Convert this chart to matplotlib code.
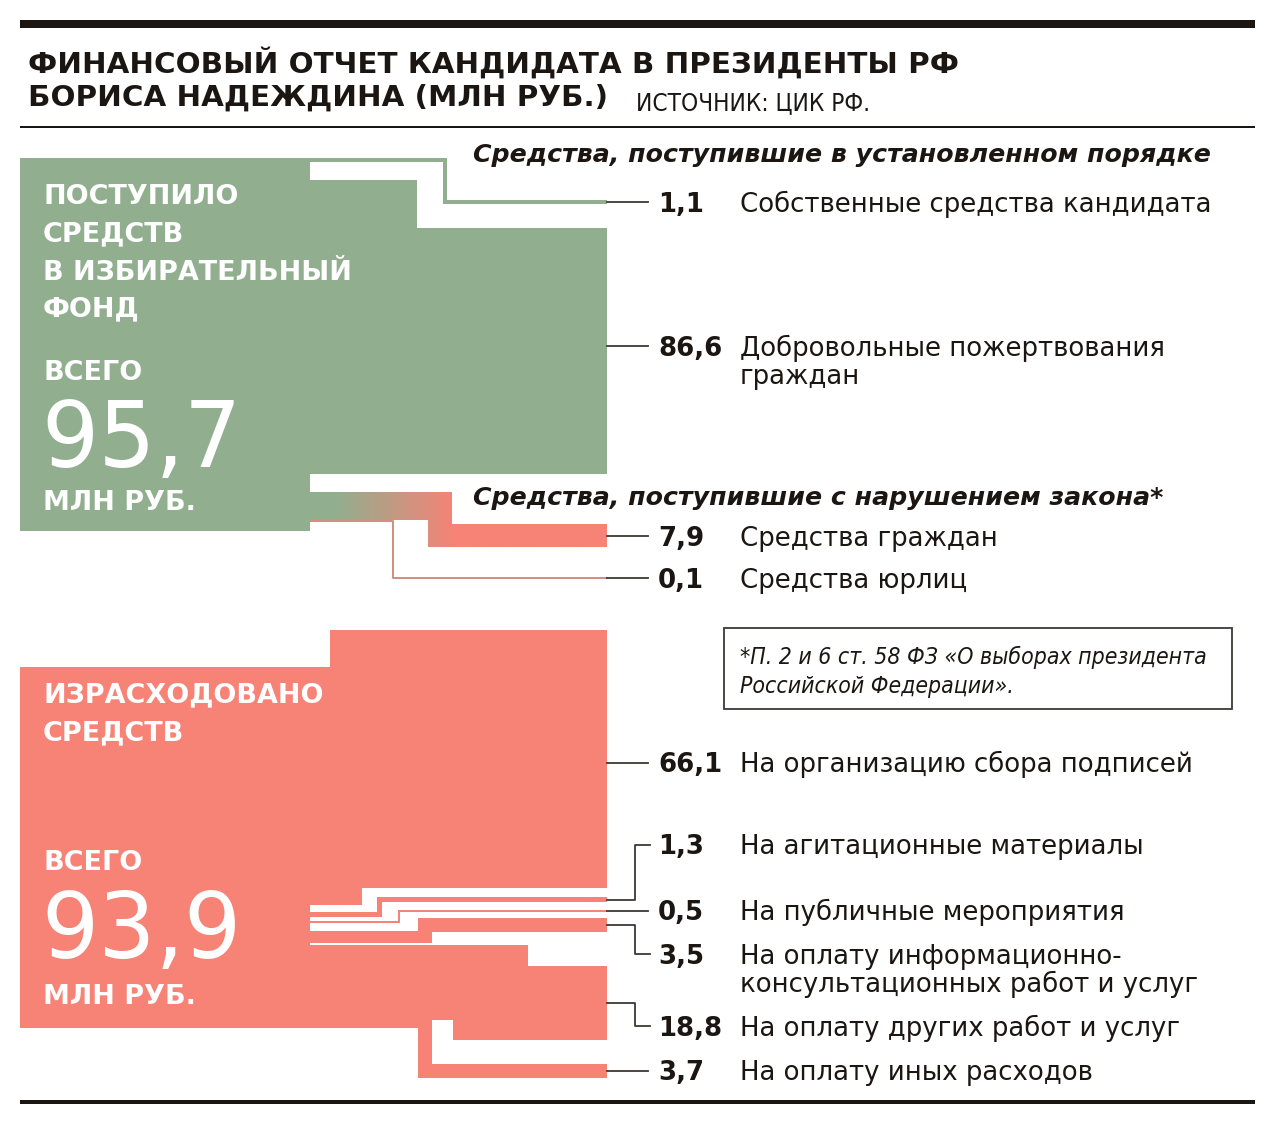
import numpy as np
import matplotlib
matplotlib.use('Agg')
from matplotlib import pyplot as plt, patches, colors, font_manager

# данные: финансовый отчет кандидата (млн руб.)
total_in = 95.7
total_out = 93.9
top_values = [1.1, 86.6, 7.9, 0.1]
top_labels = ['Собственные средства кандидата',
              'Добровольные пожертвования\nграждан',
              'Средства граждан',
              'Средства юрлиц']
bottom_values = [66.1, 1.3, 0.5, 3.5, 18.8, 3.7]
bottom_labels = ['На организацию сбора подписей',
                 'На агитационные материалы',
                 'На публичные мероприятия',
                 'На оплату информационно-\nконсультационных работ и услуг',
                 'На оплату других работ и услуг',
                 'На оплату иных расходов']

# раскладка (пиксели): центр правого конца потока, строка подписи,
# выход потока из блока слева, x ступеньки верхнего/нижнего края
top_band_y = [202, 351, 535.5, 578]
top_label_y = [202, 346, 536, 578]
top_left = [(158, 162), (180, 474), (492, 520), (521, 521)]
top_steps = [(447, 443), (417, 607), (452, 428), (393, 393)]
top_scale = 2.85

bottom_band_y = [759, 899.5, 911, 925, 1003, 1071]
bottom_label_y = [763, 845, 911, 954, 1026, 1071]
bottom_left = [(667, 905), (912, 916.5), (921, 923), (931, 943), (945, 1020), (1020, 1028)]
bottom_steps = [(330, 362), (377, 382), (398, 400), (418, 432), (528, 453), (432, 418)]
bottom_scale = 3.9

GREEN = '#91af8f'
RED = '#f68376'
INK = '#1c1613'
LINE = '#3d3833'
X0, X1, XEND = 310, 607, 648
SANS = 'DejaVu Sans'


def condensed_font(italic=False):
    # узкий рубленый шрифт, если он есть в системе
    for f in font_manager.fontManager.ttflist:
        narrow = 'Condensed' in f.name or 'Narrow' in f.name or f.stretch == 'condensed'
        sans = 'Sans' in f.name and 'Mono' not in f.name and 'Serif' not in f.name
        slanted = f.style in ('italic', 'oblique')
        if narrow and sans and f.weight in (400, 'normal', 'regular') and slanted == italic:
            return font_manager.FontProperties(fname=f.fname)
    return font_manager.FontProperties(family=SANS, style='italic' if italic else 'normal')


fig = plt.figure(figsize=(12.76, 11.25), dpi=100)
ax = fig.add_axes([0, 0, 1, 1])
ax.set_xlim(0, 1276)
ax.set_ylim(1125, 0)
ax.axis('off')
renderer = fig.canvas.get_renderer()


def pt(px):
    return px * 0.72


def fit(t, width):
    w = t.get_window_extent(renderer).width
    t.set_fontsize(t.get_fontsize() * width / w)
    return t.get_fontsize()


def band(yl0, yl1, yr0, yr1, xs_top, xs_bot):
    return [(X0, yl0), (xs_top, yl0), (xs_top, yr0), (X1, yr0),
            (X1, yr1), (xs_bot, yr1), (xs_bot, yl1), (X0, yl1)]


def fmt(v):
    return f'{v:.1f}'.replace('.', ',')


def connector(y_band, y_label):
    if abs(y_band - y_label) < 8:
        ax.plot([X1, XEND], [y_label, y_label], color=LINE, lw=1.3, zorder=3)
    else:
        ax.plot([X1, 635, 635, 650], [y_band, y_band, y_label, y_label],
                color=LINE, lw=1.3, zorder=3)


def label_row(value, text, y):
    ax.text(658, y + 9.5, fmt(value), fontsize=pt(26), fontweight='bold',
            family=SANS, color=INK, va='baseline')
    for k, line in enumerate(text.split('\n')):
        ax.text(740, y + 9.5 + 29 * k, line, fontsize=pt(26),
                family=SANS, color=INK, va='baseline')


# линейки и заголовок
ax.add_patch(patches.Rectangle((20, 20), 1235, 8, color=INK, lw=0))
ax.add_patch(patches.Rectangle((20, 126), 1235, 2, color=INK, lw=0))
ax.add_patch(patches.Rectangle((20, 1100), 1235, 4, color=INK, lw=0))
t1 = ax.text(28, 73, 'ФИНАНСОВЫЙ ОТЧЕТ КАНДИДАТА В ПРЕЗИДЕНТЫ РФ', fontsize=pt(30),
             fontweight='bold', family=SANS, color=INK, va='baseline')
fs = fit(t1, 929)
ax.text(28, 106, 'БОРИСА НАДЕЖДИНА (МЛН РУБ.)', fontsize=fs,
        fontweight='bold', family=SANS, color=INK, va='baseline')
src = ax.text(636, 110, 'ИСТОЧНИК: ЦИК РФ.', fontsize=pt(28),
              fontproperties=condensed_font(), color=INK, va='baseline')
fit(src, 234)

# поступления
ax.add_patch(patches.Rectangle((20, 158), X0 - 20, 531 - 158, color=GREEN, lw=0))
for i, v in enumerate(top_values):
    t = v * top_scale
    if i == 0:
        t = max(t, 4)
    yl0, yl1 = top_left[i]
    yr0, yr1 = top_band_y[i] - t / 2, top_band_y[i] + t / 2
    if i == 3:
        xs = top_steps[i][0]
        ax.plot([X0, xs, xs, X1], [yl0, yl0, top_band_y[i], top_band_y[i]],
                color='#d48b7f', lw=1.4, zorder=2)
    elif i == 2:
        poly = patches.Polygon(band(yl0, yl1, yr0, yr1, *top_steps[i]),
                               closed=True, facecolor='none', edgecolor='none')
        ax.add_patch(poly)
        xx = np.linspace(X0, X1, 400)
        frac = np.clip((xx - 335) / (455 - 335), 0, 1)[:, None]
        grad = (1 - frac) * np.array(colors.to_rgb(GREEN)) + frac * np.array(colors.to_rgb(RED))
        img = ax.imshow(grad[None, :, :], extent=(X0, X1, yr1, yl0),
                        aspect='auto', interpolation='bilinear', zorder=2)
        img.set_clip_path(poly)
    else:
        ax.add_patch(patches.Polygon(band(yl0, yl1, yr0, yr1, *top_steps[i]),
                                     closed=True, color=GREEN, lw=0))
    connector(top_band_y[i], top_label_y[i])
    label_row(v, top_labels[i], top_label_y[i])

h1 = ax.text(473, 162, 'Средства, поступившие в установленном порядке', fontsize=pt(25),
             fontweight='bold', style='italic', family=SANS, color=INK, va='baseline')
hs = fit(h1, 737)
ax.text(473, 505, 'Средства, поступившие с нарушением закона*', fontsize=hs,
        fontweight='bold', style='italic', family=SANS, color=INK, va='baseline')

# расходы
ax.add_patch(patches.Rectangle((20, 667), X0 - 20, 1028 - 667, color=RED, lw=0))
for i, v in enumerate(bottom_values):
    t = v * bottom_scale
    yl0, yl1 = bottom_left[i]
    yr0, yr1 = bottom_band_y[i] - t / 2, bottom_band_y[i] + t / 2
    ax.add_patch(patches.Polygon(band(yl0, yl1, yr0, yr1, *bottom_steps[i]),
                                 closed=True, color=RED, lw=0))
    connector(bottom_band_y[i], bottom_label_y[i])
    label_row(v, bottom_labels[i], bottom_label_y[i])

# сноска
ax.add_patch(patches.Rectangle((724, 628), 508, 81, facecolor='white',
                               edgecolor=LINE, lw=1.3))
fp = condensed_font(italic=True)
n1 = ax.text(740, 664, '*П. 2 и 6 ст. 58 ФЗ «О выборах президента', fontsize=pt(26),
             fontproperties=fp, color=INK, va='baseline')
ns = fit(n1, 467)
ax.text(740, 693, 'Российской Федерации».', fontsize=ns,
        fontproperties=fp, color=INK, va='baseline')

# белые подписи в блоках
for txt, y in [('ПОСТУПИЛО', 203.5), ('СРЕДСТВ', 241.5), ('В ИЗБИРАТЕЛЬНЫЙ', 279.5),
               ('ФОНД', 316.5), ('ВСЕГО', 379.5), ('МЛН РУБ.', 510.5),
               ('ИЗРАСХОДОВАНО', 702.5), ('СРЕДСТВ', 740.5), ('ВСЕГО', 870.5),
               ('МЛН РУБ.', 1004.5)]:
    ax.text(43, y, txt, fontsize=pt(27), fontweight='bold', family=SANS,
            color='white', va='baseline')
ax.text(41, 467, fmt(total_in), fontsize=pt(90), family=SANS, color='white', va='baseline')
ax.text(41, 958, fmt(total_out), fontsize=pt(90), family=SANS, color='white', va='baseline')

ax.set_xlim(0, 1276)
ax.set_ylim(1125, 0)
fig.savefig('out.png', dpi=100)
